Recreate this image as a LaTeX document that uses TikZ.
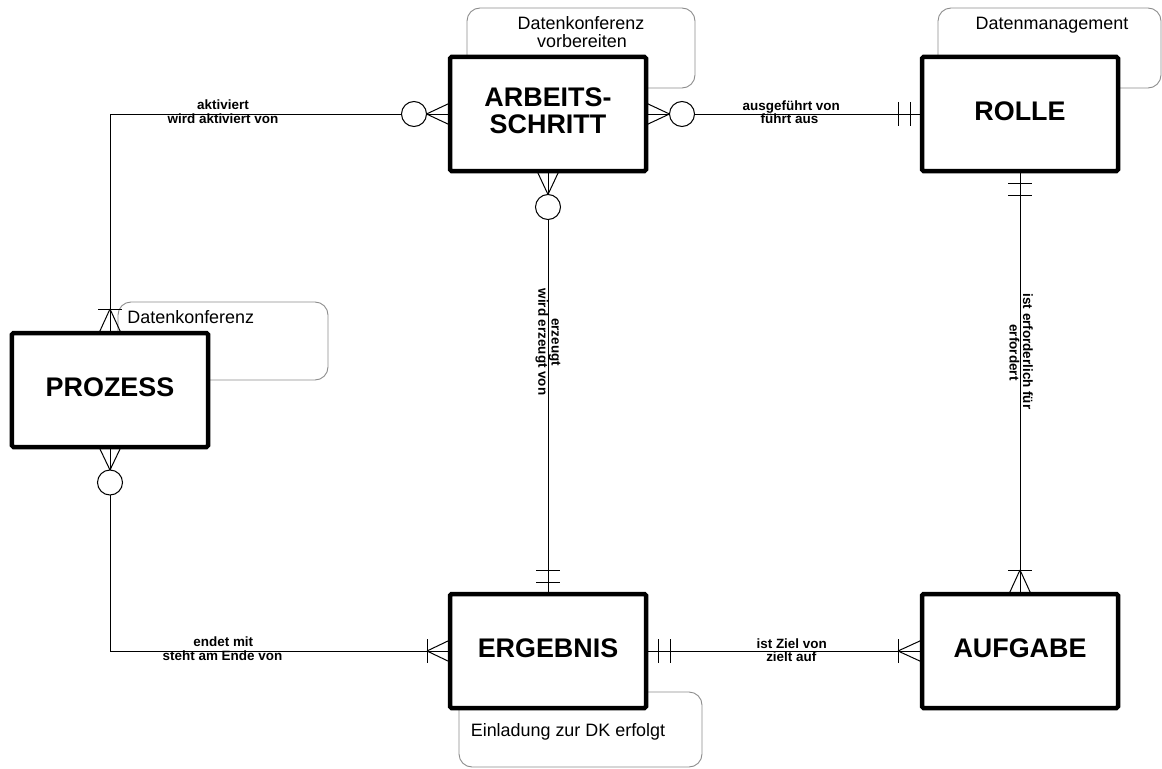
\documentclass[tikz,border=0pt]{standalone}
\usepackage{fontspec}
\setmainfont{Liberation Sans}
\usetikzlibrary{calc}
\begin{document}
\begin{tikzpicture}[x=1bp,y=-1bp,
  entity/.style={draw, line width=4.5bp, rounded corners=1.5bp, minimum width=196bp, minimum height=114bp,
    inner sep=0pt, outer sep=0pt, font=\fontsize{27}{27}\selectfont\bfseries, align=center, text depth=6bp},
  conn/.style={line width=1bp},
  zero/.style={circle, draw, line width=1bp, fill=white, minimum size=25bp, inner sep=0pt, outer sep=0pt},
  loopln/.style={draw=black!45, line width=0.9bp, rounded corners=13bp},
  rel/.style={font=\fontsize{13.5}{13}\selectfont\bfseries, inner sep=0pt, anchor=base},
  note/.style={font=\fontsize{18}{18}\selectfont, inner sep=0pt, anchor=base},
]
\useasboundingbox (0,0) rectangle (1162,769);

% self loops
\draw[loopln] (467,57) |- (695,8) |- (646,88);
\draw[loopln] (938,57) |- (1161,8) |- (1118,88);
\draw[loopln] (118,333) |- (328,302) |- (208,380);
\draw[loopln] (646,692) -| (702,767) -| (459,708);

% entities
\node[entity] (arb) at (548,114) {ARBEITS-\\SCHRITT};
\node[entity] (rolle) at (1020,114) {ROLLE};
\node[entity] (proz) at (110,390) {PROZESS};
\node[entity] (erg) at (548,651) {ERGEBNIS};
\node[entity] (aufg) at (1020,651) {AUFGABE};

% zero circles
\node[zero] (z1) at (414,114) {};
\node[zero] (z2) at (682,114) {};
\node[zero] (z3) at (548,207) {};
\node[zero] (z4) at (110,482.5) {};

% PROZESS - ARBEITSSCHRITT
\draw[conn] (proz.north) |- (z1.west);
\coordinate (p1) at ($(proz.north)+(0,-24)$);
\draw[conn] ($(p1)+(-12,0)$) -- ($(p1)+(12,0)$);
\foreach \d in {-11,0,11} \draw[conn] (p1) -- ($(proz.north)+(\d,0)$);
\foreach \d in {-11,0,11} \draw[conn] (z1.east) -- ($(arb.west)+(0,\d)$);

% ARBEITSSCHRITT - ROLLE
\draw[conn] (z2.east) -- (rolle.west);
\foreach \d in {-11,0,11} \draw[conn] (z2.west) -- ($(arb.east)+(0,\d)$);
\foreach \o in {-24,-12} \draw[conn] ($(rolle.west)+(\o,-12)$) -- ($(rolle.west)+(\o,12)$);

% ARBEITSSCHRITT - ERGEBNIS
\draw[conn] (z3.south) -- (erg.north);
\foreach \d in {-11,0,11} \draw[conn] (z3.north) -- ($(arb.south)+(\d,0)$);
\foreach \o in {-24,-12} \draw[conn] ($(erg.north)+(-12,\o)$) -- ($(erg.north)+(12,\o)$);

% ROLLE - AUFGABE
\draw[conn] (rolle.south) -- (aufg.north);
\foreach \o in {12,24} \draw[conn] ($(rolle.south)+(-12,\o)$) -- ($(rolle.south)+(12,\o)$);
\coordinate (p2) at ($(aufg.north)+(0,-24)$);
\draw[conn] ($(p2)+(-12,0)$) -- ($(p2)+(12,0)$);
\foreach \d in {-11,0,11} \draw[conn] (p2) -- ($(aufg.north)+(\d,0)$);

% ERGEBNIS - AUFGABE
\draw[conn] (erg.east) -- (aufg.west);
\foreach \o in {12,24} \draw[conn] ($(erg.east)+(\o,-12)$) -- ($(erg.east)+(\o,12)$);
\coordinate (p3) at ($(aufg.west)+(-24,0)$);
\draw[conn] ($(p3)+(0,-12)$) -- ($(p3)+(0,12)$);
\foreach \d in {-11,0,11} \draw[conn] (p3) -- ($(aufg.west)+(0,\d)$);

% PROZESS - ERGEBNIS
\foreach \d in {-11,0,11} \draw[conn] (z4.north) -- ($(proz.south)+(\d,0)$);
\draw[conn] (z4.south) |- (erg.west);
\coordinate (p4) at ($(erg.west)+(-23,0)$);
\draw[conn] ($(p4)+(0,-12)$) -- ($(p4)+(0,12)$);
\foreach \d in {-11,0,11} \draw[conn] (p4) -- ($(erg.west)+(0,\d)$);

% relationship labels
\node[rel] (l1a) at (223,110) {aktiviert};
\node[rel] (l1b) at (223,123.3) {wird aktiviert von};
\node[rel] (l2a) at (791.3,110.7) {ausgeführt von};
\node[rel] (l2b) at (789.5,123.3) {führt aus};
\node[rel] (l3a) at (223.3,646.7) {endet mit};
\node[rel] (l3b) at (222.5,660.5) {steht am Ende von};
\node[rel] (l4a) at (791.7,648.3) {ist Ziel von};
\node[rel] (l4b) at (791.3,661.7) {zielt auf};
\node[rel, rotate=-90] (l5a) at (551.7,342) {erzeugt};
\node[rel, rotate=-90] (l5b) at (538.3,342) {wird erzeugt von};
\node[rel, rotate=-90] (l6a) at (1023,351.5) {ist erforderlich für};
\node[rel, rotate=-90] (l6b) at (1009.5,352.5) {erfordert};

% loop notes
\node[note] (n1) at (581,30) {Datenkonferenz};
\node[note] (n2) at (582,48) {vorbereiten};
\node[note] (n3) at (1052,30) {Datenmanagement};
\node[note] (n4) at (190.8,323.3) {Datenkonferenz};
\node[note] (n5) at (568,736.7) {Einladung zur DK erfolgt};
\end{tikzpicture}
\end{document}
